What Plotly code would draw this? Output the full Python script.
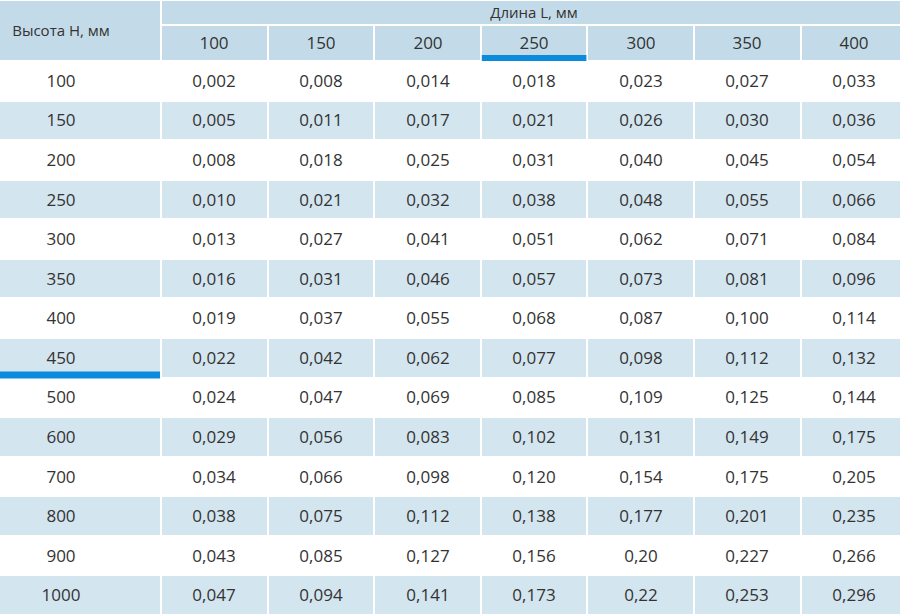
import plotly.graph_objects as go

# data
heights = [100, 150, 200, 250, 300, 350, 400, 450, 500, 600, 700, 800, 900, 1000]
lengths = [100, 150, 200, 250, 300, 350, 400]
values = [
    ["0,002", "0,008", "0,014", "0,018", "0,023", "0,027", "0,033"],
    ["0,005", "0,011", "0,017", "0,021", "0,026", "0,030", "0,036"],
    ["0,008", "0,018", "0,025", "0,031", "0,040", "0,045", "0,054"],
    ["0,010", "0,021", "0,032", "0,038", "0,048", "0,055", "0,066"],
    ["0,013", "0,027", "0,041", "0,051", "0,062", "0,071", "0,084"],
    ["0,016", "0,031", "0,046", "0,057", "0,073", "0,081", "0,096"],
    ["0,019", "0,037", "0,055", "0,068", "0,087", "0,100", "0,114"],
    ["0,022", "0,042", "0,062", "0,077", "0,098", "0,112", "0,132"],
    ["0,024", "0,047", "0,069", "0,085", "0,109", "0,125", "0,144"],
    ["0,029", "0,056", "0,083", "0,102", "0,131", "0,149", "0,175"],
    ["0,034", "0,066", "0,098", "0,120", "0,154", "0,175", "0,205"],
    ["0,038", "0,075", "0,112", "0,138", "0,177", "0,201", "0,235"],
    ["0,043", "0,085", "0,127", "0,156", "0,20", "0,227", "0,266"],
    ["0,047", "0,094", "0,141", "0,173", "0,22", "0,253", "0,296"],
]
row_title = "Высота H, мм"
col_title = "Длина L, мм"
selected_length = 250
selected_height = 450

# geometry (pixels); the picture is a crop, so outer columns run past the edges
W, H = 900, 615
LEFT_X0, LEFT_X1 = -39, 161
COL_W = 106.6
BAND_Y1 = 25
HEAD_Y1 = 61
ROW_H = (H - HEAD_Y1) / len(heights)
GAP = 2

HEAD_BG = "#c3dbe8"
ROW_BG = "#d3e5ef"
TEXT = "#333333"
ACCENT = "#0a8bdb"
FONT = "Open Sans"

col_edges = [LEFT_X1 + k * COL_W for k in range(len(lengths) + 1)]
row_edges = [HEAD_Y1 + i * ROW_H for i in range(len(heights) + 1)]
stripe = [i % 2 for i in range(len(heights))]

# 0 = white row, 1 = striped row, 2 = header
scale = [[0, "#ffffff"], [0.5, ROW_BG], [1, HEAD_BG]]


def block(x, y, z, text, size):
    return go.Heatmap(
        x=x, y=y, z=z, text=text, texttemplate="%{text}",
        textfont=dict(family=FONT, size=size, color=TEXT),
        colorscale=scale, zmin=0, zmax=2, showscale=False,
        xgap=GAP, ygap=GAP, hoverinfo="skip",
    )


fig = go.Figure()
# header: row title, length title band, length values
fig.add_trace(block([LEFT_X0, LEFT_X1], [0, HEAD_Y1], [[2]], [[row_title]], 15))
fig.add_trace(block([col_edges[0], col_edges[-1]], [0, BAND_Y1], [[2]], [[col_title]], 15))
fig.add_trace(block(col_edges, [BAND_Y1, HEAD_Y1], [[2] * len(lengths)],
                    [[str(v) for v in lengths]], 17))
# body: height labels and values
fig.add_trace(block([LEFT_X0, LEFT_X1], row_edges, [[s] for s in stripe],
                    [[str(h)] for h in heights], 17))
fig.add_trace(block(col_edges, row_edges, [[s] * len(lengths) for s in stripe],
                    values, 17))

# accent underline for the selected length and height
ci = lengths.index(selected_length)
fig.add_shape(type="rect", xref="x", yref="y",
              x0=col_edges[ci] + 1, x1=col_edges[ci + 1] - 1,
              y0=HEAD_Y1 - 6, y1=HEAD_Y1,
              fillcolor=ACCENT, line_width=0)
ri = heights.index(selected_height)
fig.add_shape(type="rect", xref="x", yref="y",
              x0=LEFT_X0, x1=LEFT_X1 - 1,
              y0=row_edges[ri + 1] - 6, y1=row_edges[ri + 1] + 1,
              fillcolor=ACCENT, line_width=0)

fig.update_xaxes(range=[0, W], visible=False, fixedrange=True)
fig.update_yaxes(range=[H, 0], visible=False, fixedrange=True)
fig.update_layout(
    width=W, height=H,
    margin=dict(l=0, r=0, t=0, b=0, pad=0),
    paper_bgcolor="white", plot_bgcolor="white",
)

fig.write_html("out.html", config={"displayModeBar": False},
               post_script="document.body.style.margin = '0';")
